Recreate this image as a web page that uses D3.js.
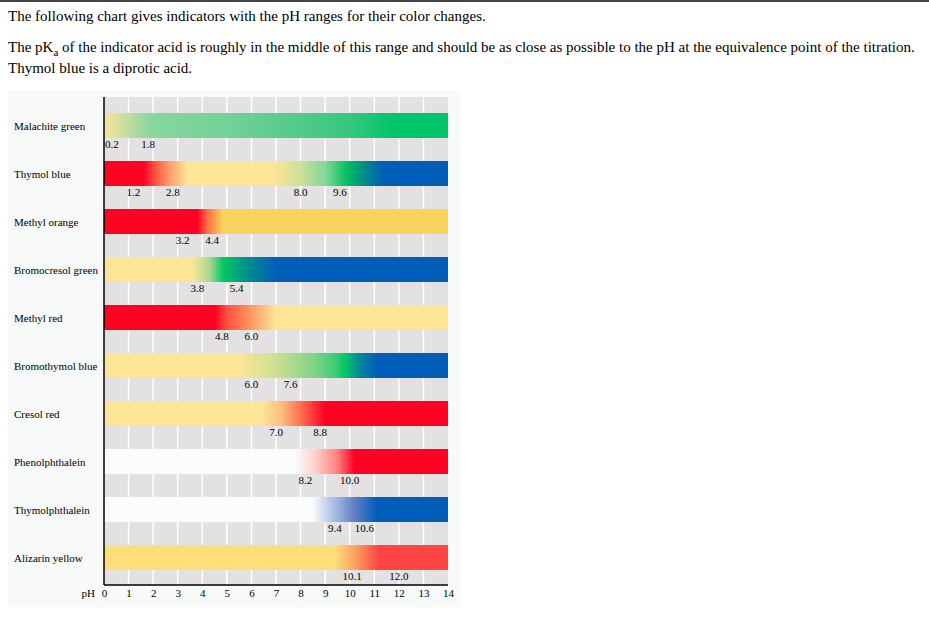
<!DOCTYPE html>
<html><head><meta charset="utf-8">
<script src="https://cdn.jsdelivr.net/npm/d3@7"></script>
<style>
body{margin:0;background:#fff;font-family:"Liberation Serif","Times New Roman",serif;}
svg{display:block;}
</style></head>
<body>
<svg id="chart" width="929" height="627"></svg>
<script>
const indicators = ["Malachite green","Thymol blue","Methyl orange","Bromocresol green","Methyl red","Bromothymol blue","Cresol red","Phenolphthalein","Thymolphthalein","Alizarin yellow"];
const rangeLabels = [[0.2,1.8],[1.2,2.8,8.0,9.6],[3.2,4.4],[3.8,5.4],[4.8,6.0],[6.0,7.6],[7.0,8.8],[8.2,10.0],[9.4,10.6],[10.1,12.0]];
// colour stops: [pH, colour]
const colorStops = [
  [[0,"#f4e49a"],[0.5,"#e0e0a0"],[1.9,"#88d79e"],[5,"#72d297"],[8,"#50cb87"],[10,"#35c87c"],[11.8,"#00c46b"],[14,"#00c46b"]],
  [[0,"#ff0022"],[1.6,"#ff0022"],[2.1,"#ff5540"],[2.7,"#ffa070"],[3.4,"#fde598"],[6.9,"#fde598"],[8.0,"#cde096"],[9.0,"#82d89a"],[9.9,"#00c060"],[10.6,"#008a8a"],[11.4,"#005eb8"],[14,"#005eb8"]],
  [[0,"#ff0022"],[3.8,"#ff0022"],[4.2,"#ff7040"],[4.85,"#f8d45c"],[14,"#f8d45c"]],
  [[0,"#fde598"],[3.6,"#fde598"],[4.3,"#a8d890"],[4.85,"#00c864"],[5.8,"#00908e"],[7.0,"#005eb8"],[14,"#005eb8"]],
  [[0,"#ff0022"],[4.5,"#ff0022"],[5.0,"#ff5040"],[6.0,"#ff9a62"],[7.0,"#fde598"],[14,"#fde598"]],
  [[0,"#fde598"],[5.4,"#fde598"],[7.0,"#cde092"],[8.5,"#82d486"],[9.4,"#40cc78"],[9.8,"#00c864"],[10.4,"#00889a"],[11.1,"#005eb8"],[14,"#005eb8"]],
  [[0,"#fde598"],[6.4,"#fde598"],[7.2,"#ffc080"],[8.0,"#ff7050"],[9.0,"#ff0022"],[14,"#ff0022"]],
  [[0,"#fafcfc"],[7.8,"#fafcfc"],[8.6,"#ffd0c8"],[9.5,"#ff8080"],[10.2,"#ff0022"],[14,"#ff0022"]],
  [[0,"#fafcfc"],[8.5,"#fafcfc"],[9.2,"#b8c8ea"],[10.2,"#6080c4"],[11.1,"#005eb8"],[14,"#005eb8"]],
  [[0,"#fede78"],[9.4,"#fede78"],[10.2,"#ffa060"],[11.2,"#ff4444"],[14,"#ff4444"]]
];
const tickValues = d3.range(0,15);

const svg = d3.select("#chart");
const font = "Liberation Serif, Times New Roman, serif";

// top border
svg.append("rect").attr("x",0).attr("y",0).attr("width",929).attr("height",2).attr("fill","#444");

// intro text
const intro = svg.append("g").attr("font-family",font).attr("font-size",15).attr("fill","#000");
intro.append("text").attr("x",8).attr("y",21).text("The following chart gives indicators with the pH ranges for their color changes.");
const t2 = intro.append("text").attr("x",8).attr("y",52);
t2.append("tspan").text("The pK");
t2.append("tspan").attr("font-size",11).attr("dy",4).text("a");
t2.append("tspan").attr("dy",-4).text(" of the indicator acid is roughly in the middle of this range and should be as close as possible to the pH at the equivalence point of the titration.");
intro.append("text").attr("x",8).attr("y",73).text("Thymol blue is a diprotic acid.");

// panel background
svg.append("rect").attr("x",8).attr("y",90).attr("width",452).attr("height",517).attr("fill","#f8fafa");

const x = d3.scaleLinear().domain([0,14]).range([104,448]);
const y = d3.scaleBand().domain(indicators).range([101.5,581.5]).paddingInner(0.48).paddingOuter(0.24);

const plotTop = 97, plotBottom = 585;
svg.append("rect").attr("x",x(0)).attr("y",plotTop).attr("width",x(14)-x(0)).attr("height",plotBottom-plotTop).attr("fill","#e3e1e2");
svg.append("g").selectAll("line").data(tickValues.slice(1,14)).join("line")
  .attr("x1",d=>x(d)).attr("x2",d=>x(d)).attr("y1",plotTop).attr("y2",plotBottom)
  .attr("stroke","#fff").attr("stroke-width",1.5);

const defs = svg.append("defs");
indicators.forEach((name,i)=>{
  const g = defs.append("linearGradient").attr("id","grad"+i).attr("gradientUnits","userSpaceOnUse")
    .attr("x1",x(0)).attr("x2",x(14)).attr("y1",0).attr("y2",0);
  g.selectAll("stop").data(colorStops[i]).join("stop")
    .attr("offset",d=>d[0]/14).attr("stop-color",d=>d[1]);
});

const bw = 25;
const rowY = name => y(name) + (y.bandwidth()-bw)/2;

svg.append("g").selectAll("rect").data(indicators).join("rect")
  .attr("x",x(0)).attr("width",x(14)-x(0))
  .attr("y",d=>rowY(d)).attr("height",bw)
  .attr("fill",(d,i)=>`url(#grad${i})`);

// row labels
svg.append("g").attr("font-family",font).attr("font-size",11).selectAll("text").data(indicators).join("text")
  .attr("x",14).attr("y",d=>rowY(d)+bw/2+4).text(d=>d);

// range value labels
indicators.forEach((name,i)=>{
  svg.append("g").attr("font-family",font).attr("font-size",11).attr("text-anchor","middle")
    .selectAll("text").data(rangeLabels[i]).join("text")
    .attr("x",d=>x(d)+ (d<0.5?3:0)).attr("y",rowY(name)+bw+10).text(d=>d.toFixed(1));
});

// axes lines
svg.append("line").attr("x1",x(0)).attr("x2",x(0)).attr("y1",plotTop).attr("y2",plotBottom).attr("stroke","#000").attr("stroke-width",1.5);
svg.append("line").attr("x1",x(0)).attr("x2",x(14)).attr("y1",plotBottom).attr("y2",plotBottom).attr("stroke","#000").attr("stroke-width",1.5);

// tick labels
const axis = d3.axisBottom(x).tickValues(tickValues).tickSize(0).tickPadding(4).tickFormat(d3.format("d"));
const ax = svg.append("g").attr("transform",`translate(0,${plotBottom})`).call(axis);
ax.select(".domain").remove();
ax.attr("font-family",font).attr("font-size",11);
ax.selectAll("text").attr("fill","#000");
svg.append("text").attr("x",95).attr("y",597).attr("text-anchor","end").attr("font-family",font).attr("font-size",11).text("pH");
</script>
</body></html>
